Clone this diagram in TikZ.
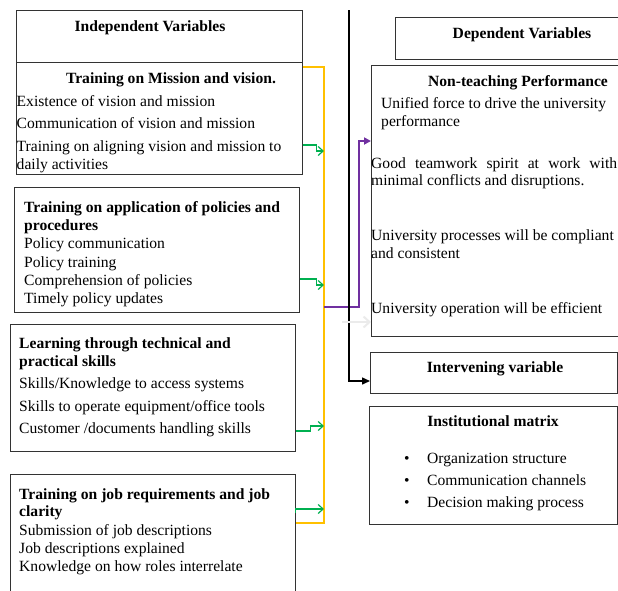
\documentclass[tikz,border=0pt]{standalone}
\usepackage{fontspec}
\setmainfont{Liberation Serif}
\usetikzlibrary{arrows.meta}
\definecolor{framegold}{HTML}{FFC000}
\definecolor{linkgreen}{HTML}{00B050}
\definecolor{linkpurple}{HTML}{7030A0}
\tikzset{every node/.style={font=\fontsize{15.6}{18}\selectfont}}
\tikzset{varbox/.style={draw=black!80, line width=0.7pt, anchor=north west, inner sep=0pt}}
\tikzset{heading/.style={font=\fontsize{15.6}{18}\selectfont\bfseries, inner sep=0pt, text height=11pt, text depth=3.5pt, yshift=-2.5pt}}
\tikzset{entry/.style={anchor=west, inner sep=0pt, text height=11pt, text depth=3.5pt, yshift=-2.5pt}}
\tikzset{goldline/.style={draw=framegold, line width=2pt}}
\tikzset{greenlink/.style={draw=linkgreen, line width=1.2pt, -{Straight Barb[length=5pt,width=9pt]}}}

\begin{document}
\begin{tikzpicture}[x=1pt,y=-1pt]
\useasboundingbox (0,0) rectangle (618,590);
\clip (0,0) rectangle (618,590);

% left column
\node[varbox,minimum width=286pt,minimum height=52pt] (indep) at (16,10) {};
\node[varbox,minimum width=286pt,minimum height=112pt] (mission) at (16,62) {};
\node[varbox,minimum width=285pt,minimum height=125pt] (policy) at (14,187) {};
\node[varbox,minimum width=285.5pt,minimum height=127pt] (skills) at (9.5,324) {};
\node[varbox,minimum width=285.5pt,minimum height=140pt] (jobs) at (9.5,474) {};

\node[heading] at (150,25) {Independent Variables};
\node[heading] at (171,77) {\textbf{Training on Mission and vision}.};
\foreach \y/\t in {100/Existence of vision and mission,122/Communication of vision and mission,145/Training on aligning vision and mission to,163/daily activities}
  \node[entry] at (16.5,\y) {\t};

\foreach \y/\t in {206/Training on application of policies and,224/procedures}
  \node[heading,anchor=west] at (24,\y) {\t};
\foreach \y/\t in {242/Policy communication,261/Policy training,279/Comprehension of policies,297/Timely policy updates}
  \node[entry] at (24,\y) {\t};

\foreach \y/\t in {342/Learning through technical and,360/practical skills}
  \node[heading,anchor=west] at (19,\y) {\t};
\foreach \y/\t in {382/{Skills/Knowledge to access systems},405/{Skills to operate equipment/office tools},427/{Customer /documents handling skills}}
  \node[entry] at (19,\y) {\t};

\foreach \y/\t in {493/Training on job requirements and job,510/clarity}
  \node[heading,anchor=west] at (19,\y) {\t};
\foreach \y/\t in {529/Submission of job descriptions,547/Job descriptions explained,565/Knowledge on how roles interrelate}
  \node[entry] at (19,\y) {\t};

% right column
\node[varbox,minimum width=240pt,minimum height=42pt] (dep) at (395,17) {};
\node[varbox,minimum width=260pt,minimum height=271pt] (perf) at (371,65) {};
\node[varbox,minimum width=247pt,minimum height=41pt] (interv) at (370,352) {};
\node[varbox,minimum width=248pt,minimum height=118pt] (matrix) at (369,406) {};

\node[heading] at (522,32) {Dependent Variables};
\node[heading] at (518,80) {Non-teaching Performance};
\node[entry] at (381,102) {Unified force to drive the university};
\node[entry] at (381,120) {performance};
\node[entry] at (371,162) {\makebox[246pt][s]{Good teamwork spirit at work with}};
\node[entry] at (371,179) {minimal conflicts and disruptions.};
\node[entry] at (371,234) {University processes will be compliant};
\node[entry] at (371,252) {and consistent};
\node[entry] at (371,307) {University operation will be efficient};

\node[heading] at (495,366) {Intervening variable};
\node[heading] at (493,420) {Institutional matrix};
\foreach \y/\t in {457/Organization structure,479/Communication channels,501/Decision making process}{
  \node[entry] at (404,\y) {\textbullet};
  \node[entry] at (427,\y) {\t};
}

% connectors
\coordinate (goldtop) at (324,67);
\coordinate (goldbot) at (324,523);
\draw[goldline] (mission.east |- goldtop) -- (goldtop) -- (goldbot) -- (jobs.east |- goldbot);

\draw[greenlink] (mission.east |- 0,145) -- ++(14,0) -- ++(0,6) -- (goldtop |- 0,151);
\draw[greenlink] (policy.east |- 0,279) -- ++(17,0) -- ++(0,6) -- (goldtop |- 0,285);
\draw[greenlink] (skills.east |- 0,431) -- ++(15,0) -- ++(0,-5) -- (goldtop |- 0,426);
\draw[greenlink] (jobs.east |- 0,513) -- ++(0,-4) -- (goldtop |- 0,509);

\draw[draw=linkpurple, line width=1.8pt, -{Triangle[length=7pt,width=7pt]}] (goldtop |- 0,307) -- (359,307) -- (359,141) -- (perf.west |- 0,141);

\coordinate (blacktop) at (349,10);
\draw[line width=1.5pt, -{Triangle[length=8pt,width=7pt]}] (blacktop) -- (349,381) -- (interv.west |- 0,381);

\draw[draw=black!8, line width=2pt, -{Straight Barb[length=6pt,width=11pt]}] (342,322) -- (perf.west |- 0,322);

\end{tikzpicture}
\end{document}
